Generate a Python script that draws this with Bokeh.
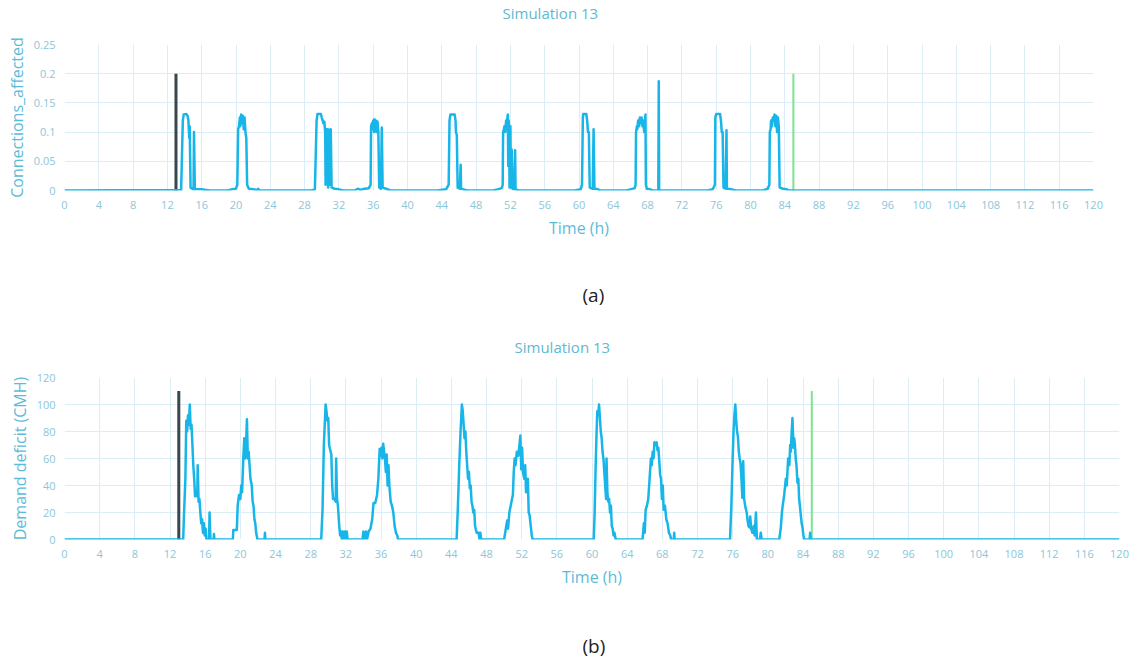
from bokeh.plotting import figure
from bokeh.models import Range1d, FixedTicker, Title
from bokeh.layouts import column
from bokeh.embed import file_html
from bokeh.resources import INLINE

# ---------------- data ----------------
title_text = "Simulation 13"
x_title = "Time (h)"
y_title_a = "Connections_affected"
y_title_b = "Demand deficit (CMH)"
tag_a = "(a)"
tag_b = "(b)"

x_ticks = list(range(0, 121, 4))
y_ticks_a = [0, 0.05, 0.1, 0.15, 0.2, 0.25]
y_tick_labels_a = ["0", "0.05", "0.1", "0.15", "0.2", "0.25"]
y_ticks_b = [0, 20, 40, 60, 80, 100, 120]

event_times = [13, 85]
event_colors = ["#37474f", "#7de38f"]
event_widths = [3, 2]
event_height_a = 0.2
event_height_b = 110

conn_t = [0, 13.6, 13.8, 13.9, 14.2, 14.35, 14.45, 14.55, 14.6, 14.7, 15.05, 15.1, 15.2, 16.0, 16.5, 17.0,
          19.0, 19.5, 20.0, 20.15, 20.25, 20.35, 20.45, 20.5, 20.6, 20.7, 20.8, 20.9, 21.0, 21.1, 21.2, 21.3, 21.5, 22.0, 22.5, 22.6, 22.7,
          28.8, 29.2, 29.4, 29.5, 29.9, 30.0, 30.1, 30.2, 30.3, 30.4, 30.45, 30.55, 30.6, 30.7, 30.75, 30.85, 30.95, 31.05, 31.15, 31.5, 32.0, 32.5,
          33.8, 34.2, 34.5, 35.0, 35.5, 35.7, 35.75, 35.85, 35.9, 36.0, 36.1, 36.15, 36.25, 36.3, 36.4, 36.5, 36.6, 36.7, 36.9, 37.0, 37.1, 37.5, 38.0,
          43.5, 44.5, 44.8, 44.9, 45.0, 45.5, 45.6, 45.65, 45.75, 45.85, 46.1, 46.2, 46.25, 46.5, 47.0,
          50.0, 50.5, 51.0, 51.1, 51.15, 51.25, 51.3, 51.4, 51.5, 51.55, 51.65, 51.7, 51.75, 51.8, 51.85, 51.9, 52.0, 52.05, 52.15, 52.25, 52.45, 52.55, 52.6, 53.0,
          59.5, 60.2, 60.35, 60.45, 60.5, 60.85, 60.95, 61.05, 61.15, 61.25, 61.6, 61.7, 61.8, 62.2, 62.5,
          65.5, 66.0, 66.5, 66.6, 66.65, 66.75, 66.8, 66.9, 67.0, 67.1, 67.2, 67.3, 67.4, 67.5, 67.6, 67.75, 67.8, 67.9, 68.3, 68.6,
          69.25, 69.3, 69.35,
          75.0, 75.6, 75.85, 75.9, 76.0, 76.45, 76.55, 76.65, 76.75, 76.85, 77.1, 77.2, 77.25, 77.8, 78.3,
          81.5, 82.0, 82.2, 82.25, 82.35, 82.4, 82.5, 82.6, 82.7, 82.8, 82.9, 83.0, 83.1, 83.2, 83.3, 83.4, 83.8, 84.2, 84.5, 120]
conn_v = [0, 0.001, 0.12, 0.13, 0.131, 0.128, 0.12, 0.09, 0.11, 0.005, 0.002, 0.1, 0.002, 0.002, 0.001, 0,
          0, 0.002, 0.003, 0.01, 0.105, 0.11, 0.125, 0.11, 0.13, 0.115, 0.128, 0.105, 0.125, 0.1, 0.09, 0.01, 0.003, 0.002, 0.001, 0.003, 0,
          0, 0.002, 0.12, 0.131, 0.131, 0.125, 0.12, 0.115, 0.118, 0.1, 0.01, 0.105, 0.02, 0.105, 0.005, 0.104, 0.01, 0.105, 0.005, 0.003, 0.002, 0,
          0, 0.003, 0.001, 0.003, 0.004, 0.01, 0.11, 0.115, 0.105, 0.12, 0.1, 0.122, 0.105, 0.12, 0.1, 0.118, 0.1, 0.005, 0.003, 0.108, 0.005, 0.003, 0,
          0, 0.002, 0.01, 0.12, 0.13, 0.13, 0.12, 0.1, 0.095, 0.005, 0.003, 0.044, 0.003, 0.002, 0,
          0, 0.002, 0.004, 0.01, 0.1, 0.105, 0.11, 0.1, 0.12, 0.11, 0.125, 0.13, 0.042, 0.12, 0.1, 0.005, 0.11, 0.005, 0.07, 0.003, 0.002, 0.069, 0.002, 0,
          0, 0.002, 0.01, 0.125, 0.131, 0.131, 0.12, 0.1, 0.1, 0.005, 0.003, 0.105, 0.003, 0.002, 0,
          0, 0.002, 0.004, 0.01, 0.1, 0.11, 0.105, 0.12, 0.11, 0.125, 0.115, 0.125, 0.11, 0.12, 0.1, 0.13, 0.01, 0.003, 0.002, 0,
          0, 0.187, 0,
          0, 0.002, 0.01, 0.125, 0.131, 0.131, 0.12, 0.1, 0.1, 0.005, 0.003, 0.103, 0.003, 0.002, 0,
          0, 0.003, 0.01, 0.1, 0.105, 0.12, 0.11, 0.125, 0.12, 0.13, 0.11, 0.128, 0.1, 0.125, 0.11, 0.005, 0.003, 0.002, 0, 0]

deficit_t = [0, 13.5, 13.6, 13.75, 13.85, 13.95, 14.05, 14.15, 14.25, 14.35, 14.45, 14.55, 14.65, 14.75, 14.85, 15.0, 15.1, 15.15, 15.25, 15.35, 15.45, 15.55, 15.65, 15.75, 15.85, 15.95, 16.05, 16.15, 16.45, 16.5, 16.6, 16.95, 17.0, 17.05,
             19.15, 19.2, 19.6, 19.7, 19.85, 20.0, 20.1, 20.2, 20.35, 20.45, 20.55, 20.65, 20.75, 20.85, 20.95, 21.05, 21.15, 21.3, 21.4, 21.5, 21.6, 21.7, 21.8, 21.95, 22.75, 22.8, 22.85,
             29.2, 29.35, 29.5, 29.7, 29.8, 29.9, 30.0, 30.1, 30.2, 30.35, 30.45, 30.55, 30.7, 30.85, 30.9, 31.0, 31.1, 31.25, 31.35, 31.45, 31.55, 31.65, 31.75, 31.9, 32.0, 32.1, 32.2,
             33.9, 34.0, 34.1, 34.3, 34.4, 34.6, 34.8, 35.0, 35.15, 35.35, 35.55, 35.7, 35.85, 35.95, 36.05, 36.15, 36.25, 36.35, 36.45, 36.55, 36.65, 36.75, 36.85, 36.95, 37.1, 37.25, 37.4, 37.55, 37.7, 37.85, 37.95,
             44.6, 44.75, 44.9, 45.05, 45.2, 45.3, 45.4, 45.5, 45.6, 45.7, 45.8, 45.9, 46.0, 46.1, 46.2, 46.3, 46.4, 46.5, 46.6, 46.7, 46.8, 46.9, 47.1, 47.2, 47.3, 47.4,
             50.0, 50.2, 50.35, 50.45, 50.6, 50.75, 50.9, 51.0, 51.1, 51.2, 51.3, 51.45, 51.6, 51.75, 51.85, 51.95, 52.05, 52.15, 52.3, 52.4, 52.5, 52.6, 52.7, 52.8, 52.9, 53.05, 53.15, 53.25,
             60.2, 60.3, 60.4, 60.5, 60.6, 60.7, 60.8, 60.9, 61.0, 61.1, 61.2, 61.3, 61.4, 61.5, 61.6, 61.65, 61.75, 61.85, 61.95, 62.05, 62.15, 62.25, 62.35, 62.45, 62.55, 62.7,
             65.75, 65.9, 66.0, 66.1, 66.25, 66.4, 66.55, 66.7, 66.8, 66.9, 67.0, 67.1, 67.2, 67.35, 67.45, 67.55, 67.65, 67.75, 67.85, 67.95, 68.05, 68.15, 68.3, 68.45, 68.6, 68.75, 68.9, 69.0, 69.3, 69.35, 69.4,
             75.7, 75.85, 76.0, 76.1, 76.2, 76.3, 76.4, 76.5, 76.6, 76.7, 76.8, 76.9, 77.0, 77.1, 77.2, 77.3, 77.45, 77.6, 77.7, 77.8, 77.9, 78.0, 78.1, 78.25, 78.4, 78.5, 78.65, 78.75, 79.1, 79.2, 79.3,
             81.3, 81.48, 81.6, 81.67, 81.86, 82.05, 82.15, 82.31, 82.45, 82.54, 82.62, 82.69, 82.8, 82.92, 83.0, 83.07, 83.17, 83.26, 83.37, 83.47, 83.56, 83.65, 83.75, 83.85, 83.94, 84.05, 84.13, 84.75, 84.81, 84.87, 120]
deficit_v = [0, 0, 20, 45, 88, 80, 92, 85, 100, 82, 85, 70, 55, 45, 32, 32, 33, 55, 28, 30, 20, 12, 15, 5, 12, 3, 8, 0, 0, 20, 0, 0, 4, 0,
             0, 7, 7, 25, 33, 30, 40, 35, 62, 75, 60, 70, 89, 60, 65, 55, 45, 40, 28, 25, 15, 12, 5, 0, 0, 5, 0,
             0, 22, 70, 100, 95, 88, 90, 70, 67, 63, 40, 30, 30, 28, 60, 30, 25, 10, 3, 6, 0, 6, 0, 6, 0, 6, 0,
             0, 6, 0, 6, 0, 6, 8, 15, 27, 27, 33, 45, 67, 62, 68, 60, 71, 65, 60, 50, 63, 40, 55, 40, 28, 25, 20, 10, 5, 3, 0,
             0, 25, 55, 80, 100, 95, 85, 75, 80, 65, 55, 45, 50, 38, 40, 28, 25, 20, 22, 10, 7, 5, 5, 0, 5, 0,
             0, 8, 14, 8, 20, 25, 30, 33, 50, 60, 55, 65, 62, 70, 77, 52, 68, 50, 45, 55, 35, 35, 45, 20, 18, 9, 3, 0,
             0, 20, 50, 75, 95, 92, 100, 90, 80, 75, 65, 60, 50, 40, 30, 60, 35, 28, 30, 20, 25, 10, 8, 3, 5, 0,
             0, 12, 5, 22, 25, 30, 45, 60, 55, 65, 60, 72, 70, 72, 66, 68, 58, 48, 45, 30, 40, 22, 25, 15, 12, 5, 3, 0, 0, 5, 0,
             0, 25, 60, 80, 92, 100, 88, 80, 76, 65, 60, 56, 45, 31, 58, 30, 24, 20, 14, 10, 9, 17, 8, 5, 10, 3, 20, 0, 0, 5, 0,
             0, 9, 20, 24, 33, 45, 40, 60, 55, 70, 65, 77, 90, 68, 75, 71, 60, 55, 42, 45, 30, 25, 18, 12, 9, 3, 0, 0, 5, 0, 0]

# ---------------- style ----------------
FONT = "Open Sans"
LINE_COLOR = "#17b5e8"
GRID_COLOR = "#dceef5"
TICK_COLOR = "#8cc6d8"
AXIS_TITLE_COLOR = "#5cbcd8"
TITLE_COLOR = "#62b8d0"


def spacer(px):
    # empty title used only to reserve vertical space in a side panel
    return Title(text=" ", text_font_size="1px", standoff=px)


def build(t, v, y_end, y_ticks, y_title, ev_h, width, height, ml, mr, mt, mb,
          title_offset, title_gap, tag, tag_offset, tag_gap, y_overrides=None):
    p = figure(width=width, height=height, x_range=Range1d(0, 120), y_range=Range1d(0, y_end),
               output_backend="svg", toolbar_location=None, title=None,
               min_border_left=ml, min_border_right=mr, min_border_top=mt, min_border_bottom=mb)
    p.outline_line_color = None
    p.background_fill_color = "white"
    p.border_fill_color = "white"
    p.xaxis.ticker = FixedTicker(ticks=x_ticks)
    p.yaxis.ticker = FixedTicker(ticks=y_ticks)
    if y_overrides:
        p.yaxis.major_label_overrides = y_overrides
    for ax in (p.xaxis[0], p.yaxis[0]):
        ax.axis_line_color = None
        ax.major_tick_line_color = None
        ax.minor_tick_line_color = None
        ax.major_tick_out = 0
        ax.major_tick_in = 0
        ax.major_label_text_font = FONT
        ax.major_label_text_font_size = "11px"
        ax.major_label_text_color = TICK_COLOR
        ax.axis_label_text_font = FONT
        ax.axis_label_text_font_size = "16px"
        ax.axis_label_text_font_style = "normal"
        ax.axis_label_text_color = AXIS_TITLE_COLOR
    p.xaxis.major_label_standoff = 10
    p.yaxis.major_label_standoff = 9
    p.xaxis.axis_label = x_title
    p.yaxis.axis_label = y_title
    p.xaxis.axis_label_standoff = 5
    p.yaxis.axis_label_standoff = 3
    p.xgrid.grid_line_color = GRID_COLOR
    p.ygrid.grid_line_color = GRID_COLOR
    p.xgrid.grid_line_width = 1
    p.ygrid.grid_line_width = 1

    # above: spacer next to the frame, then the title
    p.add_layout(spacer(title_gap), "above")
    p.add_layout(Title(text=title_text, align="left", offset=title_offset, standoff=0,
                       text_font=FONT, text_font_size="15px", text_font_style="normal",
                       text_line_height=1.0, text_color=TITLE_COLOR), "above")
    # below: axis, spacer, then the panel tag
    p.add_layout(spacer(tag_gap), "below")
    p.add_layout(Title(text=tag, align="left", offset=tag_offset, standoff=0,
                       text_font=FONT, text_font_size="19px", text_font_style="normal",
                       text_line_height=1.0, text_color="#222222"), "below")

    p.segment(x0=event_times, y0=[0, 0], x1=event_times, y1=[ev_h, ev_h],
              line_color=event_colors, line_width=event_widths)
    p.line(t, v, line_color=LINE_COLOR, line_width=2.5, line_join="round")
    return p


overrides_a = {tk: lb for tk, lb in zip(y_ticks_a, y_tick_labels_a)}

p1 = build(conn_t, conn_v, 0.25, y_ticks_a, y_title_a, event_height_a, 1107, 325,
           64, 14, 43, 135, 438, 19, tag_a, 518, 35, overrides_a)
p2 = build(deficit_t, deficit_v, 120, y_ticks_b, y_title_b, event_height_b, 1133, 335,
           64, 14, 52, 121, 450, 18, tag_b, 518, 37)

layout = column(p1, p2, spacing=0)
open("out.html", "w").write(file_html(layout, INLINE))
